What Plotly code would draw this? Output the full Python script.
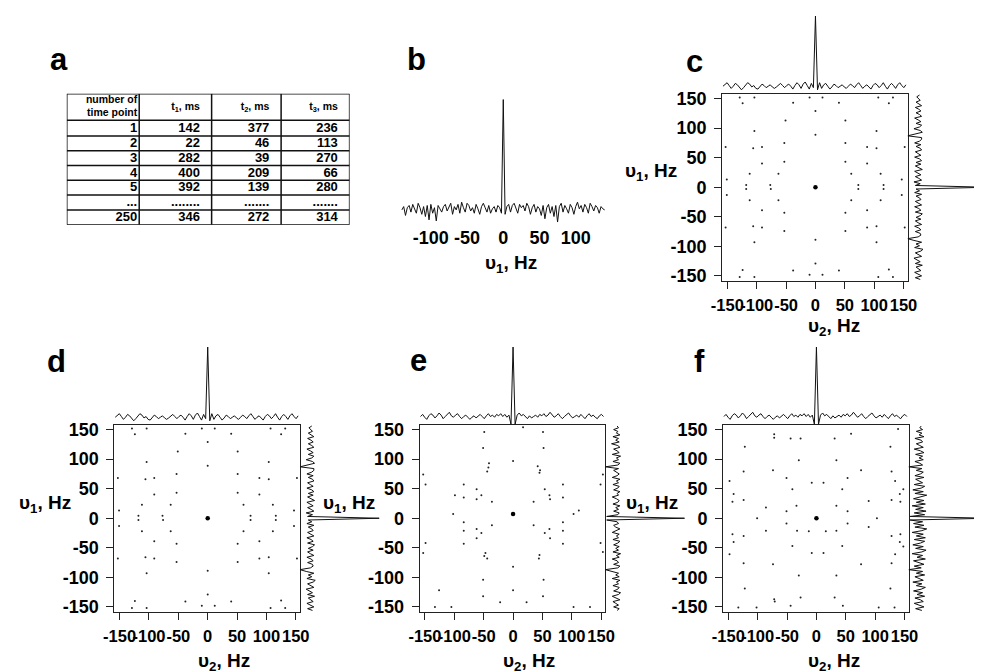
import numpy as np
import plotly.graph_objects as go

W, H = 984, 671
FONT = "Liberation Sans, Arial, Helvetica, sans-serif"

# ---------------- panel a : table ----------------
table_header = ["number of<br>time point", "t<sub>1</sub>, ms", "t<sub>2</sub>, ms", "t<sub>3</sub>, ms"]
time_point = ["1", "2", "3", "4", "5", "...", "250"]
t1_ms = ["142", "22", "282", "400", "392", "........", "346"]
t2_ms = ["377", "46", "39", "209", "139", ".......", "272"]
t3_ms = ["236", "113", "270", "66", "280", ".......", "314"]

# ---------------- panel b : 1D spectrum ----------------
b_freq_start, b_freq_step = -140.0, 2.5
b_vals = [
    0.00, 0.03, -0.05, 0.02, 0.04, -0.02, 0.05, 0.01, -0.03, 0.06,
    0.02, -0.04, 0.03, -0.06, 0.04, -0.09, 0.05, -0.03, 0.02, -0.10,
    0.04, 0.01, -0.02, 0.03, 0.05, -0.01, 0.02, 0.06, -0.04, 0.03,
    0.00, 0.05, -0.03, 0.07, 0.02, -0.02, 0.06, 0.04, -0.01, 0.02,
    -0.03, 0.05, 0.01, -0.04, 0.03, 0.06, 0.02, -0.02, 0.04, -0.03,
    0.01, 0.03, -0.02, 0.04, 0.02, -0.03, 1.00, -0.04, 0.03, 0.05,
    -0.02, 0.04, 0.06, 0.01, -0.03, 0.05, 0.02, 0.04, -0.01, 0.06,
    0.03, -0.04, 0.02, 0.05, -0.02, 0.03, 0.01, -0.05, 0.04, -0.08,
    0.02, 0.05, -0.03, 0.03, -0.06, 0.04, -0.11, 0.03, 0.06, -0.02,
    0.04, 0.01, -0.03, 0.05, 0.02, -0.04, 0.03, 0.07, 0.01, 0.04,
    -0.02, 0.05, 0.02, -0.03, 0.06, 0.03, -0.01, 0.04, 0.02, -0.03,
    0.03, 0.01, 0.00,
]

# ---------------- projections (c-f) ----------------
top_freq_start, top_freq_step = -157.5, 3.5
top_cd = [
    0.01, 0.04, 0.06, 0.02, -0.02, 0.01, 0.05, 0.03, -0.01, -0.04,
    -0.01, 0.03, 0.06, 0.04, 0.00, 0.02, -0.02, -0.03, 0.01, 0.04,
    0.02, -0.01, 0.01, 0.03, 0.00, -0.02, 0.00, 0.03, 0.05, 0.02,
    -0.01, 0.02, 0.04, 0.01, -0.03, 0.02, 0.06, 0.03, -0.02, 0.04,
    0.07, 0.02, -0.03, 0.05, -0.01, 1.00, -0.04, 0.06, -0.02, 0.03,
    0.05, 0.01, -0.03, 0.00, 0.04, 0.02, -0.01, 0.01, 0.03, 0.00,
    -0.02, 0.01, 0.04, 0.02, -0.01, 0.03, 0.06, 0.02, -0.02, 0.01,
    0.03, 0.00, -0.03, 0.02, 0.05, 0.03, -0.01, 0.02, 0.06, 0.01,
    -0.03, 0.02, 0.05, 0.02, -0.02, 0.03, 0.06, 0.02, -0.01, 0.03,
]
top_ef = [
    0.02, 0.05, 0.01, -0.02, 0.03, 0.06, 0.04, 0.00, 0.03, 0.07,
    0.04, -0.01, 0.02, 0.05, 0.08, 0.03, 0.01, 0.04, 0.06, 0.02,
    -0.01, 0.02, 0.04, 0.01, -0.02, 0.01, 0.03, 0.00, 0.02, 0.05,
    0.02, -0.01, 0.03, 0.06, 0.02, 0.04, 0.01, 0.05, 0.03, 0.06,
    0.02, 0.05, 0.01, 0.04, -0.09, 1.00, -0.09, 0.04, 0.07, 0.03,
    0.05, 0.02, -0.01, 0.03, 0.00, 0.02, 0.04, 0.01, 0.05, 0.03,
    0.06, 0.02, 0.04, 0.08, 0.05, 0.01, 0.03, 0.06, 0.02, -0.01,
    0.02, 0.05, 0.07, 0.03, 0.00, 0.02, 0.04, 0.01, 0.05, 0.02,
    -0.01, 0.03, 0.06, 0.02, 0.04, 0.01, -0.01, 0.03, 0.05, 0.02,
]
right_freq_start, right_freq_step = -156.0, 3.0
right_cd = [
    0.04, -0.03, 0.06, 0.01, -0.04, 0.05, 0.02, -0.02, 0.07, -0.03,
    0.04, 0.00, -0.05, 0.06, 0.02, -0.03, 0.05, 0.08, -0.04, 0.03,
    -0.02, 0.06, -0.05, -0.14, 0.01, 0.05, 0.04, -0.03, 0.05, 0.02,
    -0.04, 0.06, 0.01, -0.03, 0.05, -0.02, 0.04, 0.07, -0.03, 0.05,
    0.02, -0.04, 0.06, 0.01, -0.03, 0.05, 0.03, -0.02, 0.06, -0.04,
    0.03, -0.02, 1.00, -0.03, 0.04, -0.05, 0.06, 0.02, -0.03, 0.05,
    0.01, -0.04, 0.07, 0.02, -0.03, 0.05, -0.02, 0.06, 0.03, -0.04,
    0.05, 0.01, -0.03, 0.06, 0.04, -0.02, 0.05, -0.04, 0.03, 0.06,
    0.06, -0.14, -0.03, 0.07, 0.04, -0.05, 0.03, 0.06, -0.02, 0.05,
    0.01, -0.04, 0.06, 0.03, -0.02, 0.05, 0.02, -0.03, 0.06, 0.01,
    -0.02, 0.04, 0.02, -0.01, 0.03,
]
right_e = [
    0.03, 0.06, -0.02, 0.05, 0.01, -0.03, 0.07, 0.02, -0.04, 0.05,
    0.08, -0.02, 0.04, 0.06, -0.03, 0.05, 0.02, 0.07, -0.04, 0.06,
    0.01, 0.05, -0.03, -0.14, 0.04, 0.07, -0.02, 0.05, 0.03, -0.04,
    0.06, 0.02, 0.08, -0.03, 0.05, 0.01, 0.06, -0.02, 0.04, 0.07,
    -0.03, 0.05, 0.02, 0.06, -0.04, 0.03, 0.07, 0.01, -0.02, 0.05,
    0.03, -0.12, 1.00, -0.12, 0.04, 0.06, -0.02, 0.05, 0.01, 0.07,
    -0.03, 0.04, 0.06, 0.02, -0.04, 0.05, 0.03, 0.07, -0.02, 0.04,
    0.06, -0.03, 0.05, 0.02, 0.07, -0.04, 0.03, 0.06, 0.01, -0.02,
    0.05, -0.14, 0.04, 0.07, -0.03, 0.05, 0.02, 0.08, -0.04, 0.06,
    0.03, -0.02, 0.07, 0.04, -0.05, 0.06, 0.01, 0.05, -0.03, 0.07,
    0.02, 0.04, -0.02, 0.05, 0.03,
]
right_f = [
    0.05, -0.04, 0.08, 0.01, -0.06, 0.07, 0.03, -0.05, 0.09, -0.02,
    0.06, -0.07, 0.04, 0.10, -0.03, 0.05, -0.08, 0.07, 0.02, -0.05,
    0.09, -0.03, 0.06, -0.14, 0.04, -0.06, 0.08, 0.01, -0.07, 0.10,
    -0.02, 0.06, -0.09, 0.05, 0.11, -0.04, 0.07, -0.08, 0.03, 0.09,
    -0.06, 0.10, -0.03, 0.07, -0.09, 0.05, 0.12, -0.05, 0.08, -0.07,
    0.06, -0.12, 1.00, -0.12, 0.09, -0.06, 0.11, -0.04, 0.07, -0.09,
    0.10, -0.03, 0.08, -0.07, 0.05, 0.12, -0.05, 0.07, -0.08, 0.04,
    0.09, -0.06, 0.06, 0.02, -0.04, 0.08, -0.05, 0.03, 0.07, -0.03,
    0.05, -0.14, 0.06, 0.02, -0.05, 0.07, 0.01, 0.06, -0.04, 0.08,
    0.03, -0.06, 0.07, 0.02, -0.03, 0.06, 0.04, -0.05, 0.08, 0.01,
    0.05, -0.03, 0.06, 0.02, 0.04,
]

# ---------------- 2D cross peaks (Hz) ----------------
cd_x = [-129, -104, -10, 12, 107, 132, -129, -104, -10, 12, 107, 132,
        -124, -38, 40, 125, -124, -38, 40, 125,
        0, 0, -51, 51,
        -104, 0, 104, -104, 0, 104,
        -153, -106, -91, -53, 51, 88, 104, 152,
        -153, -106, -91, -53, 51, 88, 104, 152,
        -91, -53, 51, 88, -91, -53, 51, 88,
        -112, -63, 61, 111, -112, -63, 61, 111,
        -151, 147, -151, 147,
        -118, -118, -77, -76, 73, 73, 116, 116]
cd_y = [152, 152, 152, 152, 152, 152, -152, -152, -148, -148, -152, -152,
        142, 143, 143, 142, -140, -141, -141, -139,
        129, -129, 113, 113,
        95, 89, 95, -93, -89, -93,
        68, 66, 68, 75, 75, 68, 66, 68,
        -68, -66, -68, -74, -74, -68, -66, -68,
        40, 43, 43, 40, -39, -43, -43, -39,
        23, 23, 23, 23, -22, -22, -22, -22,
        13, 13, -13, -13,
        4, -3, 4, -3, 4, -3, 4, -3]
cd_center = ([0], [0])

e_x = [-49, 51, 17, -51, 52, 0, -41, -42, -44, 42, 45, 46,
       -153, 153, -149, 149, -84, 85,
       -99, -62, -54, -62, 62, 54, 63, -84, 85, -36, 35,
       -102, 103, 112,
       -36, 35, -84, 85,
       -84, -62, -54, -62, 62, 54, 63, 85,
       -84, 85, -149, 149, 153, -153,
       -49, -44, -47, 45, 44,
       0, -51, 52, 0,
       -126, -51, 51,
       -133, -105, -22, 23, 103, 131]
e_y = [146, 146, 154, 119, 119, 97, 93, 86, 79, 88, 77, 81,
       74, 74, 57, 57, 57, 57,
       39, 49, 39, 32, 39, 49, 32, 35, 35, 28, 28,
       7, 7, 13,
       -12, -12, -7, -7,
       -21, -18, -25, -34, -18, -25, -34, -21,
       -43, -43, -42, -42, -57, -59,
       -64, -68, -59, -62, -68,
       -82, -104, -104, -122,
       -122, -132, -132,
       -150, -150, -142, -142, -150, -150]
e_center = ([0], [7])

f_x = [-72, -72, -44, -27, 31, 59, 139,
       -122, 126, -30, 34,
       -124, -74, 76, 128, -51, 53, -148, 134, -8, 12, -41, 44,
       -141, 148, 142, -124, 128, -143, 143,
       -86, -51, -34, 34, 53, 89,
       -101, 103,
       -86, -51, -33, -13, 16, 34, 53, 89,
       -143, -124, 128, 143, -141, 148, 142,
       -41, 44, -8, 12, -148, 134,
       -124, -74, 76, 128, -30, 34, -122, 126,
       -72, -71, -27, 31,
       -133, -102, -44, 45, 106, 133]
f_y = [142, 136, 135, 135, 135, 143, 151,
       121, 121, 98, 98,
       79, 81, 81, 79, 68, 68, 63, 63, 60, 60, 49, 49,
       41, 49, 41, 31, 31, 28, 28,
       18, 12, 21, 21, 12, 29,
       0, 0,
       -21, -9, -21, -22, -22, -21, -9, -15,
       -27, -30, -30, -27, -40, -48, -40,
       -47, -47, -59, -59, -61, -61,
       -76, -78, -78, -76, -97, -97, -119, -119,
       -137, -141, -134, -134,
       -151, -151, -148, -148, -151, -151]
f_center = ([0], [0])

axis_ticks = [-150, -100, -50, 0, 50, 100, 150]
axis_ticktext = ["-150", "-100", "-50", "0", "50", "100", "150"]
b_ticks = [-100, -50, 0, 50, 100]
b_ticktext = ["-100", "-50", "0", "50", "100"]


# ---------------- geometry helpers (window pixels -> paper) ----------------
def fx(p):
    return p / W


def fy(p):
    return 1 - p / H


XR = [-159, 157]
YR = [-158, 158]
S = 0.6          # px per Hz in the 2D boxes
TOP_H = 72       # px from baseline to top-projection peak
RIGHT_L = 71     # px from baseline to right-projection peak

fig = go.Figure()
layout = {}
shapes = []
xtickfont = dict(family=FONT, size=16.5, color="black", weight="bold")
ytickfont = dict(family=FONT, size=18, color="black", weight="bold")

# ---------------- table (own hidden axes, 1 unit = 1 px) ----------------
col_edges = [0, 74, 148, 219, 289]
row_edges = [0, 27, 43, 58, 73, 88, 103, 118, 133]
col_pad = [2, 12, 12, 12]
tx, ty, tt = [], [], []
for j, col in enumerate([time_point, t1_ms, t2_ms, t3_ms]):
    for i, val in enumerate(col):
        tx.append(col_edges[j + 1] - col_pad[j])
        ty.append((row_edges[i + 1] + row_edges[i + 2]) / 2 + 0.5)
        tt.append(val)
fig.add_trace(go.Scatter(x=tx, y=ty, text=tt, mode="text", textposition="middle left",
                         textfont=dict(family=FONT, size=13, color="black", weight="bold"),
                         xaxis="x14", yaxis="y14", hoverinfo="skip"))
hx = [col_edges[j + 1] - col_pad[j] for j in range(4)]
hy = [row_edges[1] / 2] * 4
fig.add_trace(go.Scatter(x=hx, y=hy, text=table_header, mode="text", textposition="middle left",
                         textfont=dict(family=FONT, size=10.5, color="black", weight="bold"),
                         xaxis="x14", yaxis="y14", hoverinfo="skip"))
layout["xaxis14"] = dict(domain=[fx(57), fx(346)], range=[0, col_edges[-1]], visible=False, anchor="y14")
layout["yaxis14"] = dict(domain=[fy(223), fy(90)], range=[row_edges[-1], 0], visible=False, anchor="x14")
for c in col_edges:
    shapes.append(dict(type="line", xref="x14", yref="y14", x0=c, x1=c, y0=0, y1=row_edges[-1],
                       line=dict(color="#111", width=1.5)))
for r in row_edges:
    shapes.append(dict(type="line", xref="x14", yref="y14", x0=0, x1=col_edges[-1], y0=r, y1=r,
                       line=dict(color="#111", width=1.5)))

# ---------------- panel b ----------------
b_freq = b_freq_start + b_freq_step * np.arange(len(b_vals))
fig.add_trace(go.Scatter(x=b_freq, y=b_vals, mode="lines",
                         line=dict(color="#111", width=1), xaxis="x", yaxis="y"))
b_cx, b_scale = 503, 0.74
layout["xaxis"] = dict(domain=[fx(b_cx - 142 * b_scale), fx(b_cx + 142 * b_scale)], range=[-142, 142],
                       tickmode="array", tickvals=b_ticks, ticktext=b_ticktext, ticks="",
                       showline=False, showgrid=False, zeroline=False, tickfont=ytickfont,
                       tickangle=0, anchor="y", ticklabelstandoff=1)
layout["yaxis"] = dict(domain=[fy(222), fy(94)], range=[-14 / 112, 1 + 2 / 112], visible=False,
                       anchor="x")

# ---------------- panels c-f ----------------
panels = [
    ("c", 822, 185, cd_x, cd_y, cd_center, top_cd, right_cd),
    ("d", 201, 521, cd_x, cd_y, cd_center, top_cd, right_cd),
    ("e", 513, 521, e_x, e_y, e_center, top_ef, right_e),
    ("f", 823, 521, f_x, f_y, f_center, top_ef, right_f),
]

top_freq = top_freq_start + top_freq_step * np.arange(len(top_cd))
right_freq = right_freq_start + right_freq_step * np.arange(len(right_cd))

ax = 2
for name, cx, cy, dx, dy, cen, topv, rightv in panels:
    left = cx + XR[0] * S
    right = cx + XR[1] * S
    top = cy - YR[1] * S
    bottom = cy - YR[0] * S
    m, t, r = ax, ax + 1, ax + 2
    ax += 3
    fig.add_trace(go.Scatter(x=dx, y=dy, mode="markers",
                             marker=dict(color="#222", size=2),
                             xaxis=f"x{m}", yaxis=f"y{m}"))
    fig.add_trace(go.Scatter(x=cen[0], y=cen[1], mode="markers",
                             marker=dict(color="black", size=4.5),
                             xaxis=f"x{m}", yaxis=f"y{m}"))
    common = dict(tickmode="array", tickvals=axis_ticks, ticktext=axis_ticktext,
                  ticks="outside", ticklen=7, tickwidth=1, tickcolor="#222",
                  showline=True, linecolor="#222", linewidth=1, mirror=True,
                  showgrid=False, zeroline=False, tickangle=0)
    layout[f"xaxis{m}"] = dict(domain=[fx(left), fx(right)], range=XR, anchor=f"y{m}",
                               ticklabelstandoff=3, tickfont=xtickfont, **common)
    layout[f"yaxis{m}"] = dict(domain=[fy(bottom), fy(top)], range=YR, anchor=f"x{m}",
                               ticklabelstandoff=4, tickfont=ytickfont, **common)
    # top projection
    fig.add_trace(go.Scatter(x=top_freq, y=topv, mode="lines",
                             line=dict(color="#111", width=1),
                             xaxis=f"x{t}", yaxis=f"y{t}"))
    layout[f"xaxis{t}"] = dict(domain=[fx(left), fx(right)], range=XR, visible=False, anchor=f"y{t}")
    layout[f"yaxis{t}"] = dict(domain=[fy(top), fy(top - 82)], range=[-7 / TOP_H, 75 / TOP_H],
                               visible=False, anchor=f"x{t}")
    # right projection (clipped by the window edge for c and f)
    r_end = min(right + 84, W)
    fig.add_trace(go.Scatter(x=rightv, y=right_freq, mode="lines",
                             line=dict(color="#111", width=1),
                             xaxis=f"x{r}", yaxis=f"y{r}"))
    layout[f"xaxis{r}"] = dict(domain=[fx(right), fx(r_end)],
                               range=[-10 / RIGHT_L, (r_end - right - 10) / RIGHT_L],
                               visible=False, anchor=f"y{r}")
    layout[f"yaxis{r}"] = dict(domain=[fy(bottom), fy(top)], range=YR, visible=False, anchor=f"x{r}")

# ---------------- text ----------------
annotations = []
label_font = dict(family=FONT, size=31, color="black", weight="bold")
for txt, x, y in [("a", 49, 55), ("b", 414, 55), ("c", 698, 57), ("d", 47, 362), ("e", 416, 361), ("f", 704, 362)]:
    annotations.append(dict(text=txt, x=fx(x), y=fy(y), xref="paper", yref="paper",
                            showarrow=False, xanchor="center", yanchor="middle", font=label_font))

title_font = dict(family=FONT, size=19, color="black", weight="bold")
for x, y in [(683, 170), (63, 507), (374, 507), (684, 507)]:
    annotations.append(dict(text="υ<sub>1</sub>, Hz", x=fx(x), y=fy(y), xref="paper", yref="paper",
                            showarrow=False, xanchor="right", yanchor="middle", font=title_font))
annotations.append(dict(text="υ<sub>1</sub>, Hz", x=fx(511), y=fy(263), xref="paper", yref="paper",
                        showarrow=False, xanchor="center", yanchor="middle", font=title_font))
for x, y in [(841, 327), (218, 667), (529, 667), (841, 667)]:
    annotations.append(dict(text="υ<sub>2</sub>, Hz", x=fx(x), y=fy(y), xref="paper", yref="paper",
                            showarrow=False, xanchor="center", yanchor="middle", font=title_font))

fig.update_layout(width=W, height=H, margin=dict(l=0, r=0, t=0, b=0),
                  paper_bgcolor="white", plot_bgcolor="white", showlegend=False,
                  annotations=annotations, shapes=shapes, **layout)
# remove the browser's default 8 px body margin so the figure fills the window exactly
fig.write_html("out.html", config={"displayModeBar": False},
               post_script="document.body.style.margin='0px';")
